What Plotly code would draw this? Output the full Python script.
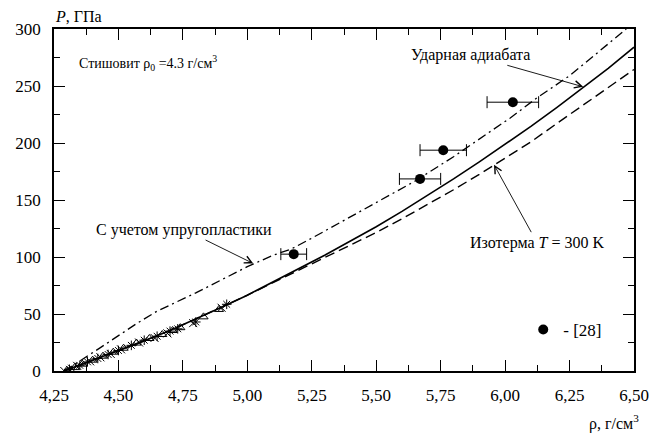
import plotly.graph_objects as go

# Shock adiabat of stishovite (solid)
rho_hug = [4.29, 4.40, 4.50, 4.60, 4.70, 4.80, 4.90, 5.00, 5.10, 5.20, 5.30, 5.40,
           5.50, 5.60, 5.70, 5.80, 5.90, 6.00, 6.10, 6.20, 6.30, 6.40, 6.50]
p_hug = [0.0, 9.5, 17.5, 26.5, 35.5, 45.5, 56.0, 66.5, 78.0, 89.5, 101.5, 114.0,
         126.5, 140.0, 154.0, 168.5, 183.5, 199.0, 214.5, 231.0, 248.0, 265.5, 284.0]

# 300 K isotherm (dashed)
rho_iso = [4.29, 4.40, 4.50, 4.60, 4.70, 4.80, 4.90, 5.00, 5.10, 5.20, 5.30, 5.40,
           5.50, 5.60, 5.70, 5.80, 5.90, 6.00, 6.10, 6.20, 6.30, 6.40, 6.50]
p_iso = [0.0, 9.5, 17.5, 26.5, 35.5, 45.5, 56.0, 66.5, 77.5, 88.5, 99.5, 110.5,
         121.5, 133.5, 146.0, 159.0, 172.5, 186.5, 201.0, 217.0, 233.0, 248.5, 264.5]

# Shock adiabat with elastoplastic correction (dash-dot)
rho_ep = [4.29, 4.36, 4.43, 4.50, 4.57, 4.65, 4.72, 4.80, 4.90, 5.00, 5.10, 5.17,
          5.25, 5.35, 5.45, 5.55, 5.65, 5.80, 5.90, 6.02, 6.12, 6.25, 6.36, 6.47]
p_ep = [0.0, 10.0, 20.5, 31.0, 41.5, 52.5, 60.0, 68.5, 80.0, 91.5, 101.5, 107.0,
        116.5, 129.0, 141.5, 154.0, 166.5, 188.0, 203.5, 222.0, 239.0, 259.0, 279.5, 300.0]

# Low-pressure experimental data, three sets
rho_tri = [4.30, 4.33, 4.36, 4.40, 4.44, 4.48, 4.52, 4.57, 4.62, 4.67, 4.71, 4.74, 4.83, 4.89]
p_tri = [0.5, 3.0, 6.0, 9.5, 13.0, 16.5, 20.0, 24.5, 28.5, 32.0, 35.5, 38.0, 47.5, 54.0]

rho_star = [4.31, 4.35, 4.38, 4.42, 4.46, 4.50, 4.55, 4.60, 4.65, 4.70, 4.73, 4.80, 4.92]
p_star = [1.5, 5.0, 8.0, 11.0, 14.5, 18.0, 22.5, 27.0, 30.5, 35.0, 37.0, 43.0, 58.5]

rho_x = [4.29, 4.32, 4.34, 4.39, 4.43, 4.47, 4.51, 4.58, 4.64, 4.69, 4.79, 4.90]
p_x = [0.0, 2.0, 4.5, 8.5, 12.0, 15.0, 19.0, 25.0, 29.0, 33.0, 42.0, 55.5]

# Data of ref. [28] with density error bars
rho_28 = [5.18, 5.67, 5.76, 6.03]
p_28 = [102.5, 168.5, 193.7, 235.8]
drho_28 = [0.05, 0.08, 0.09, 0.10]

FONT = "Liberation Serif"

fig = go.Figure()

fig.add_trace(go.Scatter(x=rho_iso, y=p_iso, mode="lines", showlegend=False,
                         line=dict(color="black", width=1.4, dash="10px,5px")))
fig.add_trace(go.Scatter(x=rho_ep, y=p_ep, mode="lines", showlegend=False,
                         line=dict(color="black", width=1.3, dash="9px,4px,2px,4px")))
fig.add_trace(go.Scatter(x=rho_hug, y=p_hug, mode="lines", showlegend=False,
                         line=dict(color="black", width=1.6)))

for xs, ys, sym in [(rho_tri, p_tri, "triangle-up-open"),
                    (rho_star, p_star, "asterisk-open"),
                    (rho_x, p_x, "x-thin-open")]:
    fig.add_trace(go.Scatter(x=xs, y=ys, mode="markers", showlegend=False,
                             marker=dict(symbol=sym, size=8, color="black",
                                         line=dict(color="black", width=1))))

fig.add_trace(go.Scatter(
    x=rho_28, y=p_28, mode="markers", name="- [28]", showlegend=True,
    marker=dict(size=10, color="black"),
    error_x=dict(type="data", array=drho_28, color="black", thickness=1, width=6),
))

# Curve labels with pointer arrows (arrow runs from the label box to the curve)
for x, y, ax, ay, txt in [(6.303, 249.3, -113, -32, "Ударная адиабата"),
                          (5.023, 94.3, -69, -34, "С учетом упругопластики"),
                          (5.957, 181.0, 43, 78, "Изотерма <i>T</i> = 300 K")]:
    fig.add_annotation(x=x, y=y, ax=ax, ay=ay, text=txt, showarrow=True,
                       arrowhead=5, arrowsize=1.6, arrowwidth=0.9, arrowcolor="black",
                       axref="pixel", ayref="pixel", standoff=0, startstandoff=0,
                       xanchor="center", yanchor="middle",
                       font=dict(family=FONT, size=16, color="black"))

fig.add_annotation(x=4.339, y=270.6,
                   text="Стишовит ρ<sub>0</sub> =4.3 г/см<sup>3</sup>", showarrow=False,
                   xanchor="left", yanchor="middle",
                   font=dict(family=FONT, size=14, color="black"))

# Axis titles
fig.add_annotation(xref="paper", yref="paper", x=-0.002, y=1.038,
                   text="<i>P</i>, ГПа", showarrow=False, xanchor="left",
                   yanchor="middle", font=dict(family=FONT, size=16, color="black"))
fig.add_annotation(xref="paper", yref="paper", x=0.919, y=-0.152,
                   text="ρ, г/см<sup>3</sup>", showarrow=False, xanchor="left",
                   yanchor="middle", font=dict(family=FONT, size=16, color="black"))

tickfont = dict(family=FONT, size=17, color="black")
fig.update_xaxes(range=[4.25, 6.5], tick0=4.25, dtick=0.25, tickformat=".2f",
                 showline=True, linecolor="black", linewidth=1.5, mirror="allticks",
                 ticks="inside", ticklen=11, tickcolor="black", zeroline=False,
                 minor=dict(ticks="inside", dtick=0.125, ticklen=6, tickcolor="black"),
                 ticklabelstandoff=8, tickfont=tickfont)
fig.update_yaxes(range=[0, 300], tick0=0, dtick=50,
                 showline=True, linecolor="black", linewidth=1.5, mirror="allticks",
                 ticks="inside", ticklen=11, tickcolor="black", zeroline=False,
                 minor=dict(ticks="inside", dtick=25, ticklen=6, tickcolor="black"),
                 ticklabelstandoff=8, tickfont=tickfont)

fig.update_layout(
    width=660, height=436,
    margin=dict(l=54, r=26, t=29, b=65),
    plot_bgcolor="white",
    separators=", ",
    legend=dict(x=0.809, y=0.12, yanchor="middle",
                font=dict(family=FONT, size=17, color="black")),
)

fig.write_html("out.html")
